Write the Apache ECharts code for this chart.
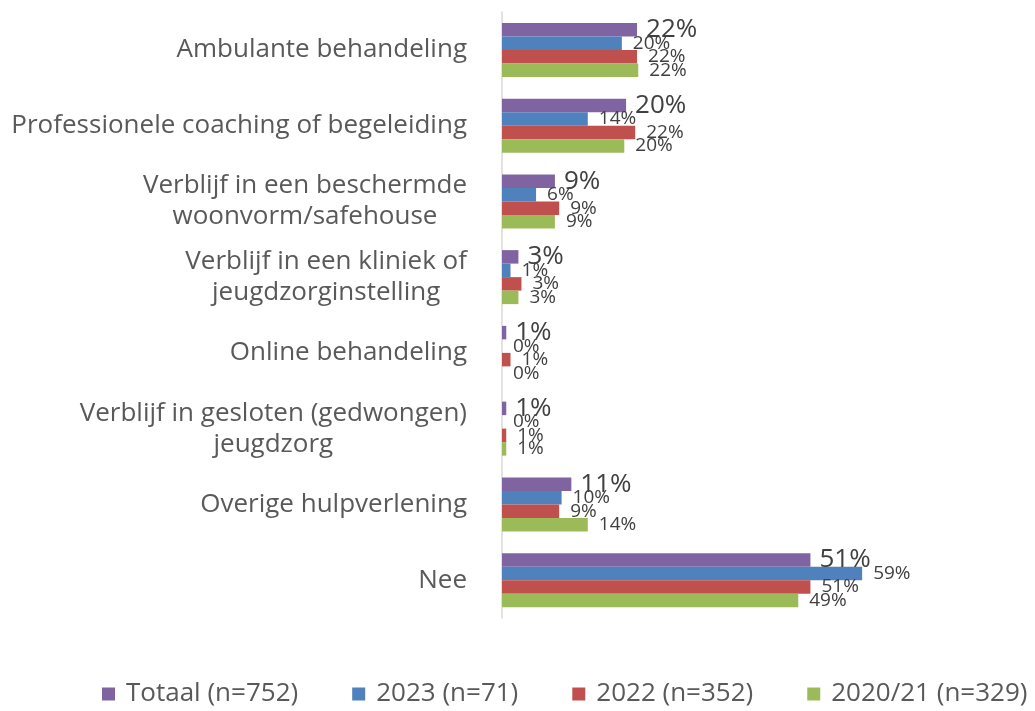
<!DOCTYPE html>
<html>
<head>
<meta charset="utf-8">
<script src="https://cdn.jsdelivr.net/npm/echarts@6/dist/echarts.min.js"></script>
<style>html,body{margin:0;padding:0;background:#fff;}#c{width:1035px;height:711px;}</style>
</head>
<body>
<div id="c"></div>
<script>
const categories = [
  'Ambulante behandeling',
  'Professionele coaching of begeleiding',
  'Verblijf in een beschermde\nwoonvorm/safehouse',
  'Verblijf in een kliniek of\njeugdzorginstelling',
  'Online behandeling',
  'Verblijf in gesloten (gedwongen)\njeugdzorg',
  'Overige hulpverlening',
  'Nee'
];
const seriesNames = ['Totaal (n=752)', '2023 (n=71)', '2022 (n=352)', '2020/21 (n=329)'];
const totaal = [22.2, 20.4, 8.7, 2.7, 0.7, 0.7, 11.4, 50.7];
const y2023  = [19.7, 14.1, 5.6, 1.4, 0, 0, 9.8, 59.2];
const y2022  = [22.2, 21.9, 9.4, 3.2, 1.4, 0.7, 9.4, 50.7];
const y2021  = [22.4, 20.1, 8.7, 2.7, 0, 0.7, 14.1, 48.7];
const colors = ['#8064A2', '#4F81BD', '#C0504D', '#9BBB59'];
const FONT = 'Open Sans';

const chart = echarts.init(document.getElementById('c'), null, {renderer: 'canvas'});
function mk(name, data, color, big) {
  return {
    name: name, type: 'bar', data: data, barWidth: 13.5, barGap: '0%',
    itemStyle: {color: color},
    label: {
      show: true, position: 'right', distance: big ? 9 : 11,
      formatter: p => Math.round(p.value) + '%',
      color: '#404040', fontFamily: FONT, fontSize: big ? 26 : 19
    },
    emphasis: {disabled: true}
  };
}
chart.setOption({
  animation: false,
  color: colors,
  grid: {left: 502, right: 168, top: 12, bottom: 93, containLabel: false},
  xAxis: {type: 'value', min: 0, max: 60, show: false},
  yAxis: {
    type: 'category', data: categories, inverse: true,
    axisLine: {show: true, lineStyle: {color: '#d9d9d9', width: 1.5}},
    axisTick: {show: false},
    axisLabel: {
      margin: 35, color: '#595959', fontFamily: FONT, fontSize: 26,
      formatter: v => v.split('\n').map(s => '{c|' + s + '}').join('\n'),
      rich: {c: {align: 'center', color: '#595959', fontFamily: FONT, fontSize: 26, lineHeight: 31}}
    }
  },
  legend: {
    bottom: 4, left: 102, width: 933, padding: 0, itemWidth: 13, itemHeight: 13, itemGap: 54,
    icon: 'rect',
    textStyle: {color: '#595959', fontFamily: FONT, fontSize: 26, padding: [0, 0, 0, 6]},
    data: seriesNames
  },
  series: [
    mk(seriesNames[0], totaal, colors[0], true),
    mk(seriesNames[1], y2023, colors[1], false),
    mk(seriesNames[2], y2022, colors[2], false),
    mk(seriesNames[3], y2021, colors[3], false)
  ]
});
</script>
</body>
</html>
